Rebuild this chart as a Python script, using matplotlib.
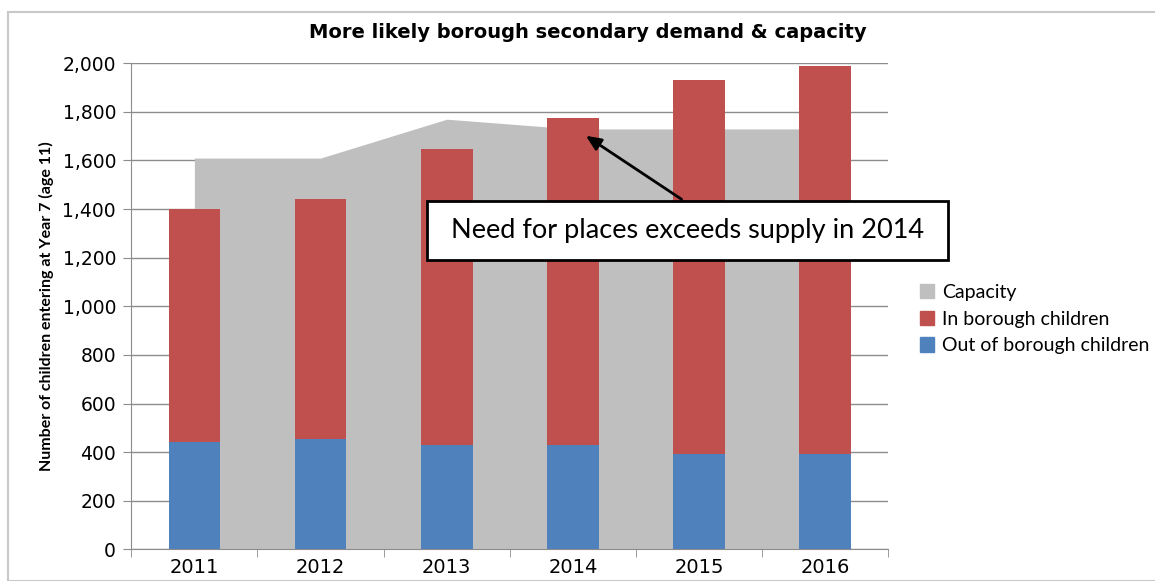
import matplotlib
matplotlib.use("Agg")
import matplotlib.pyplot as plt
from matplotlib.patches import Rectangle, Patch
import numpy as np

years = ["2011", "2012", "2013", "2014", "2015", "2016"]
out_borough = [443, 453, 430, 430, 391, 391]
in_borough = [959, 990, 1217, 1345, 1539, 1598]
capacity = [1610, 1610, 1770, 1730, 1730, 1730]
y_ticks = [0, 200, 400, 600, 800, 1000, 1200, 1400, 1600, 1800, 2000]
y_tick_labels = ["0", "200", "400", "600", "800", "1,000", "1,200", "1,400", "1,600", "1,800", "2,000"]

W, H = 1155, 581
fig = plt.figure(figsize=(W / 100, H / 100), dpi=100)
fig.patch.set_facecolor("white")

# outer chart border
fig.add_artist(Rectangle((8 / W, 0), 1.2, (H - 12) / H, transform=fig.transFigure,
                         fill=False, edgecolor="#c8c8c8", linewidth=1.5))

ax = fig.add_axes([131.3 / W, (H - 549.3) / H, (888.3 - 131.3) / W, (549.3 - 63.3) / H])
x = np.arange(len(years))

ax.set_axisbelow(True)
ax.yaxis.grid(True, color="#8c8c8c", linewidth=1)
ax.fill_between(x, 0, capacity, color="#bfbfbf", linewidth=0, zorder=2)
ax.bar(x, out_borough, width=0.41, color="#4f81bd", zorder=3, linewidth=0)
ax.bar(x, in_borough, bottom=out_borough, width=0.41, color="#c0504d", zorder=3, linewidth=0)

ax.set_xlim(-0.5, len(years) - 0.5)
ax.set_ylim(0, 2000)
ax.set_yticks(y_ticks)
ax.set_yticklabels(y_tick_labels, fontsize=13.5, family="DejaVu Sans")
ax.set_xticks(x)
ax.set_xticklabels(years, fontsize=14, family="DejaVu Sans")
ax.set_xticks(np.arange(-0.5, len(years)), minor=True)
ax.tick_params(axis="x", which="major", length=0, pad=6)
ax.tick_params(axis="x", which="minor", length=6, color="#8c8c8c")
ax.tick_params(axis="y", length=6, color="#8c8c8c", pad=5)
for s in ["top", "right"]:
    ax.spines[s].set_visible(False)
for s in ["left", "bottom"]:
    ax.spines[s].set_color("#8c8c8c")

ax.set_ylabel("Number of children entering at Year 7 (age 11)",
              family="Lato", fontweight="bold", fontsize=11.5, labelpad=6)

fig.text(588 / W, 1 - 33 / H, "More likely borough secondary demand & capacity",
         ha="center", va="center", fontsize=14, fontweight="bold", family="DejaVu Sans")

# annotation
ax.annotate("", xy=(3.085, 1708), xytext=(3.88, 1434),
            arrowprops=dict(arrowstyle="-|>,head_length=0.9,head_width=0.4", color="black", lw=2),
            zorder=6)
ax.add_patch(Rectangle((1.847, 1191), 5.97 - 1.847, 1434 - 1191, facecolor="white",
                       edgecolor="black", linewidth=2, clip_on=False, zorder=7))
ax.text((1.847 + 5.97) / 2, (1191 + 1434) / 2, "Need for places exceeds supply in 2014",
        ha="center", va="center", fontsize=19.5, family="Lato", zorder=8, clip_on=False)

handles = [Patch(color="#bfbfbf", label="Capacity"),
           Patch(color="#c0504d", label="In borough children"),
           Patch(color="#4f81bd", label="Out of borough children")]
fig.legend(handles=handles, loc="upper left", bbox_to_anchor=(912 / W, 1 - 276 / H),
           frameon=False, prop={"family": "Lato", "size": 14}, handlelength=0.75, handleheight=0.75,
           handletextpad=0.4, labelspacing=0.5, borderaxespad=0)

fig.savefig("out.png", dpi=100)
